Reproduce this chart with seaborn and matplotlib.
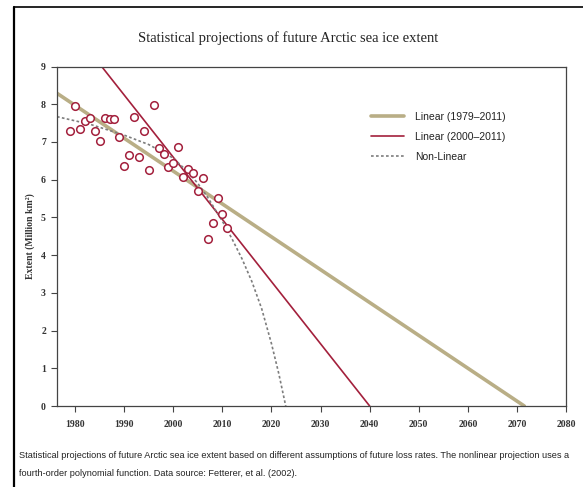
import matplotlib
matplotlib.use("Agg")
import matplotlib.pyplot as plt
from matplotlib.lines import Line2D
import pandas as pd
import seaborn as sns

# September Arctic sea ice extent (million km²)
years = list(range(1979, 2012))
extent = [7.30, 7.96, 7.34, 7.56, 7.63, 7.28, 7.03, 7.64, 7.60, 7.60,
          7.14, 6.35, 6.65, 7.65, 6.60, 7.29, 6.25, 7.98, 6.85, 6.67,
          6.34, 6.43, 6.86, 6.06, 6.29, 6.17, 5.69, 6.04, 4.42, 4.85,
          5.52, 5.08, 4.73]

# Projection lines
linear_long_years = [1976.3, 2071.5]
linear_long_extent = [8.29, 0.0]
linear_short_years = [1985.4, 2040.0]
linear_short_extent = [9.0, 0.0]
nonlinear_years = [1976.3, 1983, 1990, 1995, 2000, 2003, 2005, 2007, 2010,
                   2012, 2014, 2016, 2018, 2020, 2021.5, 2022.9]
nonlinear_extent = [7.67, 7.47, 7.18, 6.93, 6.57, 6.20, 5.90, 5.53, 4.90,
                    4.42, 3.90, 3.30, 2.58, 1.65, 0.85, 0.0]

series_labels = ["Linear (1979\u20132011)", "Linear (2000\u20132011)", "Non-Linear"]
x_ticks = list(range(1980, 2081, 10))
y_ticks = list(range(0, 10))

TAN = "#b9ae86"
RED = "#a3203c"
GREY = "#7d7d7d"
SERIF = ["Liberation Serif", "DejaVu Serif"]
NARROW = ["Liberation Sans Narrow", "Liberation Sans", "DejaVu Sans"]

sns.set_theme(style="ticks")
plt.rcParams["font.family"] = SERIF

W, H = 583, 487
fig = plt.figure(figsize=(W / 100, H / 100), dpi=100)
fig.patch.set_facecolor("white")
ax = fig.add_axes([57 / W, 1 - 406 / H, (566 - 57) / W, (406 - 66.5) / H])
ax.set_facecolor("white")

obs = pd.DataFrame({"year": years, "extent": extent})
df_long = pd.DataFrame({"year": linear_long_years, "extent": linear_long_extent})
df_short = pd.DataFrame({"year": linear_short_years, "extent": linear_short_extent})
df_poly = pd.DataFrame({"year": nonlinear_years, "extent": nonlinear_extent})

sns.lineplot(data=df_long, x="year", y="extent", color=TAN, linewidth=2.6,
             label=series_labels[0], ax=ax, zorder=2)
sns.lineplot(data=df_short, x="year", y="extent", color=RED, linewidth=1.2,
             label=series_labels[1], ax=ax, zorder=2)
sns.lineplot(data=df_poly, x="year", y="extent", color=GREY, linewidth=1.2,
             linestyle=(0, (1.6, 1.4)), label=series_labels[2], ax=ax, zorder=2)
sns.scatterplot(data=obs, x="year", y="extent", marker="o", s=30,
                facecolor="white", edgecolor=RED, linewidth=1.1, ax=ax,
                zorder=3, legend=False)

ax.set_xlim(1976.3, 2080)
ax.set_ylim(0, 9)
ax.set_xticks(x_ticks)
ax.set_yticks(y_ticks)
ax.set_xticklabels([str(t) for t in x_ticks], fontsize=7, fontweight="bold",
                   color="#333333", family=SERIF)
ax.set_yticklabels([str(t) for t in y_ticks], fontsize=7, fontweight="bold",
                   color="#333333", family=SERIF)
ax.tick_params(axis="x", direction="out", length=4, width=0.8,
               color="#444444", pad=6)
ax.tick_params(axis="y", direction="out", length=4, width=0.8,
               color="#444444", pad=4)
ax.set_xlabel("")
ax.set_ylabel("Extent (Million km\u00b2)", fontsize=7, fontweight="bold",
              color="#333333", family=SERIF, labelpad=4)
for side in ["left", "bottom", "top", "right"]:
    ax.spines[side].set_visible(True)
    ax.spines[side].set_color("#444444")
    ax.spines[side].set_linewidth(0.9)

handles, labels = ax.get_legend_handles_labels()
leg = ax.legend(handles, labels, loc="upper left",
                bbox_to_anchor=(371 / W, 1 - 112 / H),
                bbox_transform=fig.transFigure, frameon=False,
                borderaxespad=0, borderpad=0, handlelength=3.2,
                handletextpad=1.0, labelspacing=0.95,
                prop={"family": NARROW, "size": 7.5})
for t in leg.get_texts():
    t.set_color("#222222")

fig.text(288 / W, 1 - 38 / H,
         "Statistical projections of future Arctic sea ice extent",
         ha="center", va="center", fontsize=10.5, color="#222222", family=SERIF)

fig.text(19 / W, 1 - 456 / H,
         "Statistical projections of future Arctic sea ice extent based on different "
         "assumptions of future loss rates. The nonlinear projection uses a",
         ha="left", va="center", fontsize=6.6, color="#222222", family=NARROW)
fig.text(19 / W, 1 - 473 / H,
         "fourth-order polynomial function. Data source: Fetterer, et al. (2002).",
         ha="left", va="center", fontsize=6.6, color="#222222", family=NARROW)

# Page frame
fig.add_artist(Line2D([14 / W, 14 / W], [0, 1 - 7 / H], transform=fig.transFigure,
                      color="black", linewidth=1.6))
fig.add_artist(Line2D([14 / W, 1], [1 - 7 / H, 1 - 7 / H], transform=fig.transFigure,
                      color="black", linewidth=1.2))

fig.savefig("out.png", dpi=100, facecolor="white")
